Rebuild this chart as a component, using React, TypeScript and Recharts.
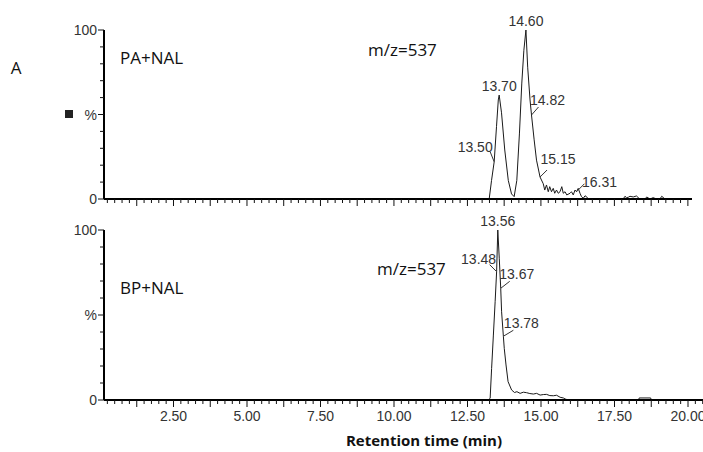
import { LineChart, Line, XAxis, YAxis, ReferenceDot } from 'recharts';

// PA+NAL trace (retention time in min, relative intensity in %)
const paTime = [0.2, 13.24, 13.32, 13.41, 13.49, 13.55, 13.58, 13.66, 13.77, 13.89, 14.0, 14.09, 14.18, 14.27, 14.35, 14.42, 14.49, 14.55, 14.63, 14.68, 14.77, 14.85, 14.97, 15.08, 15.13, 15.19, 15.25, 15.3, 15.36, 15.42, 15.47, 15.53, 15.59, 15.65, 15.71, 15.76, 15.82, 15.88, 15.99, 16.04, 16.1, 16.16, 16.21, 16.27, 16.33, 16.38, 16.44, 16.5, 16.55, 16.61, 17.8, 17.86, 17.91, 17.97, 18.03, 18.14, 18.25, 18.36, 18.54, 18.6, 18.71, 18.82, 18.93, 19.05, 19.11, 19.22, 20.14];
const paSignal = [0, 0, 11, 22, 43, 58.6, 61.5, 51, 29, 11, 3, 1.4, 11, 39, 68.6, 88, 100, 78, 58.6, 49.7, 35, 23, 13, 9, 5.3, 8.3, 4.3, 7.3, 4.3, 6.3, 3.4, 5.3, 3.4, 4.3, 7.3, 3.4, 4.3, 2.4, 3.4, 4.3, 2.4, 5.3, 4.3, 6.3, 3.4, 1.4, 0.4, 1.9, 1.4, 0, 0, 1.6, 0.8, 1.0, 1.6, 1.2, 1.8, 0, 0, 1.2, 0, 0.8, 0, 0, 1.6, 0, 0];

// BP+NAL trace
const bpTime = [0.2, 13.21, 13.27, 13.32, 13.38, 13.44, 13.49, 13.53, 13.58, 13.63, 13.66, 13.72, 13.75, 13.81, 13.88, 14.0, 14.1, 14.18, 14.29, 14.4, 14.51, 14.62, 14.74, 14.85, 14.97, 15.08, 15.19, 15.3, 15.42, 15.53, 15.65, 15.76, 15.82, 15.93, 18.32, 18.34, 18.73, 18.75, 20.51];
const bpSignal = [0, 0, 1, 18.6, 38.2, 57.8, 75.5, 100, 83.4, 65.7, 51.9, 37.5, 30.4, 20.6, 10.8, 5.9, 4.4, 4.9, 3.9, 4.6, 4.3, 3.8, 3.5, 3.9, 2.9, 3.2, 3.3, 2.6, 2.5, 2.8, 1.6, 1.2, 0.6, 0, 0, 1.2, 1.2, 0, 0];

// peak labels
const paPeakLabels = ['13.50', '13.70', '14.60', '14.82', '15.15', '16.31'];
const paPeakTime = [13.41, 13.58, 14.49, 14.68, 14.97, 16.21];
const paPeakLevel = [22, 61.5, 100, 49.7, 13, 4.3];

const bpPeakLabels = ['13.56', '13.48', '13.67', '13.78'];
const bpPeakTime = [13.53, 13.49, 13.63, 13.72];
const bpPeakLevel = [100, 75.5, 65.7, 37.5];

// where each label sits relative to its point (px)
const paLabelPlace = [
  { lx: -4, ly: -10, tx: -19, ty: -15 },
  { tx: 0, ty: -9 },
  { tx: 0, ty: -9 },
  { lx: 7, ly: -8, tx: 16, ty: -15 },
  { lx: 7, ly: -7, tx: 18, ty: -18 },
  { lx: 8, ly: -8, tx: 23, ty: -10 },
];
const bpLabelPlace = [
  { tx: 0, ty: -9 },
  { lx: -7, ly: -7, tx: -18, ty: -13 },
  { lx: 9, ly: -7, tx: 16, ty: -14 },
  { lx: 10, ly: -6, tx: 18, ty: -13 },
];

const xLabelTicks = [2.5, 5, 7.5, 10, 12.5, 15, 17.5, 20];
const yTickLabels: Record<number, string> = { 0: '0', 50: '%', 100: '100' };
const yTicks = [0, 10, 20, 30, 40, 50, 60, 70, 80, 90, 100];
const xTicks = Array.from({ length: 82 }, (_, i) => (i + 1) * 0.25);

const paData = paTime.map((t, i) => ({ t, v: paSignal[i] }));
const bpData = bpTime.map((t, i) => ({ t, v: bpSignal[i] }));

const tickFont = { fontFamily: '"Liberation Sans", Arial, sans-serif', fontSize: 14, fill: '#333' };
const labelFont = { fontFamily: '"Open Sans", sans-serif', fontSize: 17, fill: '#111' };

const near = (a: number, b: number) => Math.abs(a - b) < 1e-6;

function XTick(props: any) {
  const { x, y, payload, showLabel } = props;
  const v = payload.value;
  const major = near(v / 1.25, Math.round(v / 1.25));
  const labeled = showLabel && xLabelTicks.some((l) => near(l, v));
  return (
    <g>
      <line x1={x} y1={y} x2={x} y2={y + (major ? 7 : 4)} stroke="#111" strokeWidth={1} />
      {labeled && (
        <text x={x} y={y + 21} textAnchor="middle" {...tickFont}>
          {v.toFixed(2)}
        </text>
      )}
    </g>
  );
}

function YTick(props: any) {
  const { x, y, payload } = props;
  const v = payload.value;
  const label = yTickLabels[v];
  return (
    <g>
      <line x1={x - (label ? 6 : 4)} y1={y} x2={x} y2={y} stroke="#111" strokeWidth={1} />
      {label && (
        <text x={x - 7} y={y + 5} textAnchor="end" {...tickFont}>
          {label}
        </text>
      )}
    </g>
  );
}

function PeakMark(props: any) {
  const { cx, cy, text, place } = props;
  return (
    <g>
      {place.lx !== undefined && (
        <line x1={cx} y1={cy} x2={cx + place.lx} y2={cy + place.ly} stroke="#333" strokeWidth={1} />
      )}
      <text x={cx + place.tx} y={cy + place.ty + 5} textAnchor="middle" {...tickFont}>
        {text}
      </text>
    </g>
  );
}

function Trace({ data, domainEnd, labels, times, levels, places, showLabels, height, margin }: any) {
  return (
    <LineChart width={703} height={height} data={data} margin={margin}>
      <XAxis
        dataKey="t"
        type="number"
        domain={[0.136, domainEnd]}
        allowDataOverflow
        ticks={xTicks.filter((t) => t <= domainEnd)}
        interval={0}
        height={30}
        tickSize={0}
        tickMargin={0}
        axisLine={{ stroke: '#000', strokeWidth: 2 }}
        tickLine={false}
        tick={<XTick showLabel={showLabels} />}
      />
      <YAxis
        type="number"
        domain={[0, 100]}
        ticks={yTicks}
        interval={0}
        width={60}
        tickSize={0}
        tickMargin={0}
        axisLine={{ stroke: '#000', strokeWidth: 2 }}
        tickLine={false}
        tick={<YTick />}
      />
      <Line
        dataKey="v"
        type="linear"
        stroke="#1a1a1a"
        strokeWidth={1}
        dot={false}
        isAnimationActive={false}
      />
      {labels.map((lab: string, i: number) => (
        <ReferenceDot
          key={lab}
          x={times[i]}
          y={levels[i]}
          ifOverflow="visible"
          shape={(p: any) => <PeakMark cx={p.cx} cy={p.cy} text={lab} place={places[i]} />}
        />
      ))}
    </LineChart>
  );
}

export default function App() {
  return (
    <div style={{ position: 'absolute', left: 0, top: 0, width: 703, height: 452, background: '#fff' }}>
      <div style={{ position: 'absolute', left: 0, top: 0 }}>
        <Trace
          data={paData}
          domainEnd={20.14}
          labels={paPeakLabels}
          times={paPeakTime}
          levels={paPeakLevel}
          places={paLabelPlace}
          showLabels={false}
          height={255}
          margin={{ top: 30, right: 11, bottom: 26, left: 44 }}
        />
      </div>
      <div style={{ position: 'absolute', left: 0, top: 200 }}>
        <Trace
          data={bpData}
          domainEnd={20.51}
          labels={bpPeakLabels}
          times={bpPeakTime}
          levels={bpPeakLevel}
          places={bpLabelPlace}
          showLabels={true}
          height={252}
          margin={{ top: 30, right: 0, bottom: 22, left: 44 }}
        />
      </div>
      <svg width={703} height={452} style={{ position: 'absolute', left: 0, top: 0, pointerEvents: 'none' }}>
        <text x={16} y={74} textAnchor="middle" {...labelFont}>A</text>
        <rect x={65} y={110} width={8} height={8} fill="#222" />
        <text x={120} y={64} {...labelFont}>PA+NAL</text>
        <text x={368} y={56} {...labelFont}>m/z=537</text>
        <text x={120} y={294} {...labelFont}>BP+NAL</text>
        <text x={377} y={275} {...labelFont}>m/z=537</text>
        <text x={424} y={446} textAnchor="middle" {...labelFont} fontSize={15} fontWeight="bold">
          Retention time (min)
        </text>
      </svg>
    </div>
  );
}
